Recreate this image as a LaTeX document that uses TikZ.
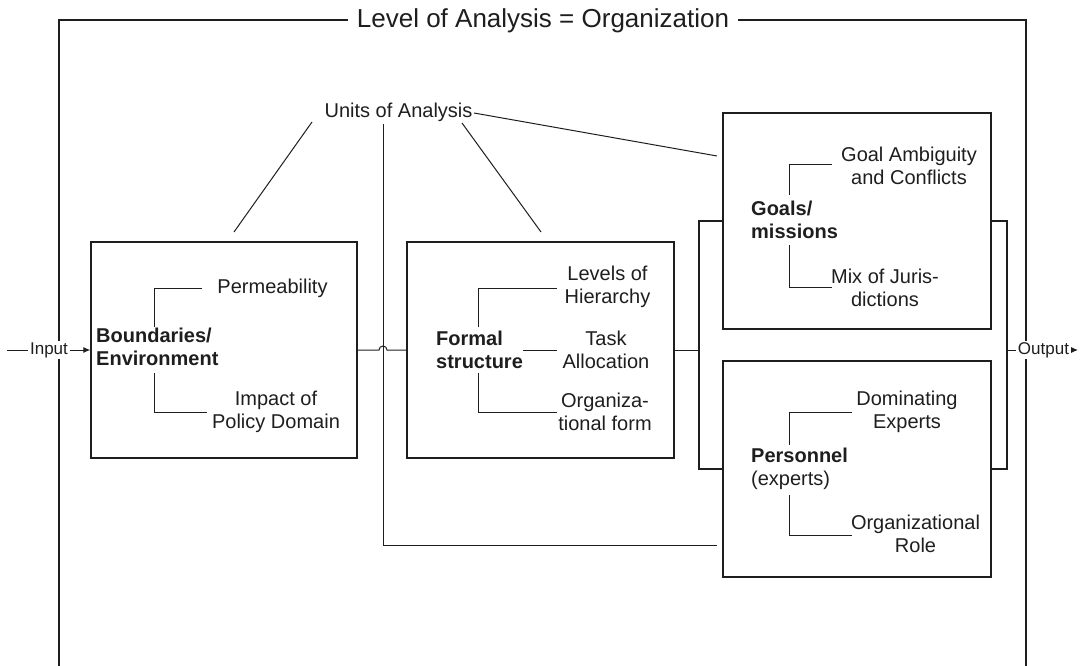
\documentclass[tikz,border=0pt]{standalone}
\usepackage{fontspec}
\setmainfont{Liberation Sans}
\usetikzlibrary{arrows.meta}
\definecolor{ink}{HTML}{1E1E1E}
\tikzset{
  box/.style={draw=ink, line width=1.3pt, minimum width=#1, minimum height=216pt, inner sep=0pt},
  wire/.style={draw=ink, line width=1pt},
  frameline/.style={draw=ink, line width=1.4pt},
  txt/.style={inner sep=0pt, align=center, text=ink, font=\fontsize{20}{23}\selectfont},
  head/.style={inner sep=0pt, align=left, text=ink, font=\fontsize{20}{23}\selectfont},
  io/.style={inner sep=1.5pt, fill=white, text=ink, font=\fontsize{17}{20}\selectfont},
  arr/.style={wire, -{Latex[length=7pt,width=6pt]}}
}
\begin{document}
\begin{tikzpicture}[x=1pt,y=-1pt]
\useasboundingbox (0,0) rectangle (1088,666);

% outer frame, open at the bottom
\draw[frameline] (59,666) -- (59,20) -- (1026,20) -- (1026,666);
\node[fill=white, inner xsep=9pt, inner ysep=2pt, text=ink, font=\fontsize{26}{29}\selectfont] (title) at (543,21) {Level of Analysis = Organization};

% the four boxes
\node[box=266pt] (A) at (224,350) {};
\node[box=267pt] (B) at (540.5,350) {};
\node[box=268pt] (C) at (857,221) {};
\node[box=268pt] (D) at (857,469) {};

% box A: boundaries / environment
\node[head, anchor=west] (hA) at (96,346.5) {\textbf{Boundaries/}\\\textbf{Environment}};
\node[txt] (perm) at (272.5,288) {Permeability};
\node[txt] (pol) at (276,411.5) {Impact of\\Policy Domain};
\draw[wire] (154,327) |- (202,288);
\draw[wire] (154,373) |- (207,412);

% box B: formal structure
\node[head, anchor=west] (hB) at (436,349.5) {\textbf{Formal}\\\textbf{structure}};
\node[txt] (lev) at (607.5,286.5) {Levels of\\Hierarchy};
\node[txt] (task) at (606,349.5) {Task\\Allocation};
\node[txt] (orgf) at (605,411.5) {Organiza-\\tional form};
\draw[wire] (478,327) |- (557,288);
\draw[wire] (478,373) |- (557,412);
\draw[wire] (523,350) -- (557,350);

% box C: goals / missions
\node[head, anchor=west] (hC) at (751,219.5) {\textbf{Goals/}\\\textbf{missions}};
\node[txt] (amb) at (909,165.5) {Goal Ambiguity\\and Conflicts};
\node[txt] (jur) at (885,287.5) {Mix of Juris-\\dictions};
\draw[wire] (789,195) |- (832,165);
\draw[wire] (789,245) |- (832,287);

% box D: personnel
\node[head, anchor=west] (hD) at (751,469) {\textbf{Personnel}\\(experts)};
\node[txt] (dom) at (907,411.5) {Dominating\\Experts};
\node[txt] (role) at (915.5,533.5) {Organizational\\Role};
\draw[wire] (789,445) |- (852,412);
\draw[wire] (789,495) |- (852,535);

% junctions between the boxes
\coordinate (jl) at (699,350);
\coordinate (jr) at (1007,350);
\draw[wire] (A.east) -- (379,350) arc[start angle=180, end angle=360, radius=4] -- (B.west);
\draw[wire] (B.east) -- (jl);
\draw[wire, line width=1.3pt] (C.west) -| (jl) |- (D.west);
\draw[wire, line width=1.3pt] (C.east) -| (jr) |- (D.east);

% input and output
\coordinate (inStart) at (7,350);
\node[io] (in) at (49,350) {Input};
\draw[wire] (inStart) -- (in.west);
\draw[arr] (in.east) -- (A.west);
\node[io] (out) at (1043.5,350) {Output};
\coordinate (outEnd) at (1078,350);
\draw[wire] (jr) -- (out.west);
\draw[arr] (out.east) -- (outEnd);

% units of analysis and its links
\node[txt] (units) at (398.5,112) {Units of Analysis};
\coordinate (u1) at (312,122);
\coordinate (u1e) at (234,232);
\coordinate (u2) at (462,123);
\coordinate (u2e) at (541,232);
\coordinate (u3) at (474,113);
\coordinate (u3e) at (717,156);
\coordinate (u4) at (383,124);
\coordinate (u4c) at (383,545);
\coordinate (u4e) at (717,545);
\draw[wire] (u1) -- (u1e);
\draw[wire] (u2) -- (u2e);
\draw[wire] (u3) -- (u3e);
\draw[wire] (u4) -- (u4c) -- (u4e);
\end{tikzpicture}
\end{document}
